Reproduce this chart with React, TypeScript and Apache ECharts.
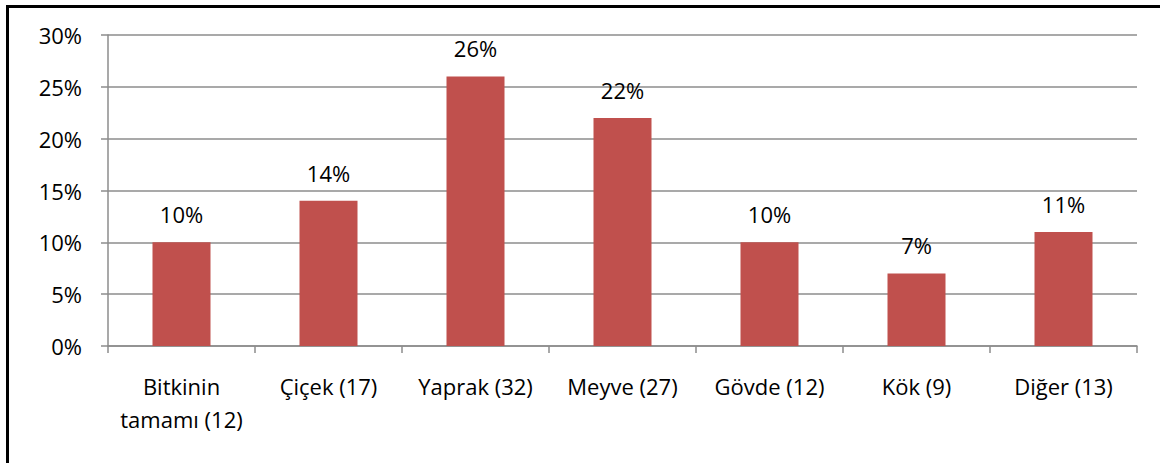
import React, { useEffect, useRef } from "react";
import * as echarts from "echarts";

const categories = [
  "Bitkinin\ntamamı (12)",
  "Çiçek (17)",
  "Yaprak (32)",
  "Meyve (27)",
  "Gövde (12)",
  "Kök (9)",
  "Diğer (13)",
];
const shares = [0.1, 0.14, 0.26, 0.22, 0.1, 0.07, 0.11];

export default function App() {
  const ref = useRef<HTMLDivElement>(null);
  useEffect(() => {
    if (!ref.current) return;
    const chart = echarts.init(ref.current, null, { renderer: "svg" });
    const font = "'Open Sans', Calibri, sans-serif";
    chart.setOption({
      animation: false,
      backgroundColor: "#ffffff",
      grid: { left: 108, right: 23, top: 35, bottom: 117 },
      xAxis: {
        type: "category",
        data: categories,
        boundaryGap: true,
        axisLine: { show: true, lineStyle: { color: "#8c8c8c", width: 1.5 } },
        axisTick: { show: true, length: 7, inside: false, lineStyle: { color: "#8c8c8c", width: 1.5 } },
        axisLabel: {
          color: "#000",
          fontFamily: font,
          fontSize: 22,
          lineHeight: 33,
          margin: 23,
          interval: 0,
        },
      },
      yAxis: {
        type: "value",
        min: 0,
        max: 0.3,
        interval: 0.05,
        axisLine: { show: true, lineStyle: { color: "#8c8c8c", width: 1.5 } },
        axisTick: { show: true, length: 7, lineStyle: { color: "#8c8c8c", width: 1.5 } },
        splitLine: { show: true, lineStyle: { color: "#8c8c8c", width: 1.5 } },
        axisLabel: {
          color: "#000",
          fontFamily: font,
          fontSize: 22,
          margin: 26,
          formatter: (v: number) => Math.round(v * 100) + "%",
        },
      },
      series: [
        {
          type: "bar",
          data: shares,
          barWidth: 58,
          itemStyle: { color: "#C0504D" },
          label: {
            show: true,
            position: "top",
            distance: 17,
            color: "#000",
            fontFamily: font,
            fontSize: 22,
            formatter: (p: any) => Math.round(p.value * 100) + "%",
          },
        },
      ],
      graphic: [
        {
          type: "line",
          shape: { x1: 6, y1: 6.5, x2: 1160, y2: 6.5 },
          style: { stroke: "#000", lineWidth: 3 },
        },
        {
          type: "line",
          shape: { x1: 7.5, y1: 5, x2: 7.5, y2: 463 },
          style: { stroke: "#000", lineWidth: 3 },
        },
      ],
    });
    return () => chart.dispose();
  }, []);
  return (
    <div
      ref={ref}
      style={{ position: "absolute", left: 0, top: 0, width: 1160, height: 463 }}
    />
  );
}
